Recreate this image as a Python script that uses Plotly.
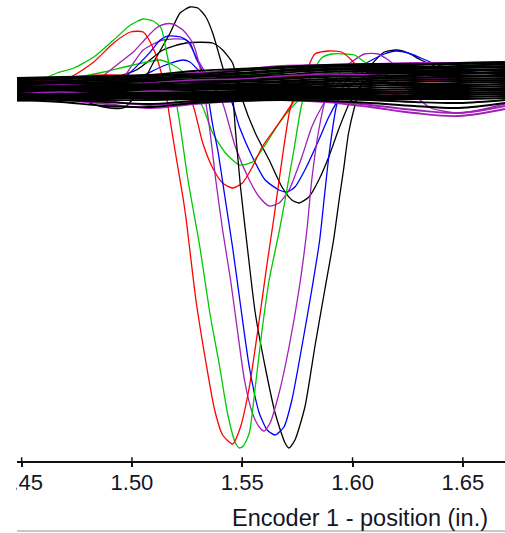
import plotly.graph_objects as go

# ---- deep-dip sweeps: position (in.) and signal (counts) ----
red_deep_x = [1.4479, 1.4615, 1.4723, 1.4827, 1.4917, 1.4993, 1.5051, 1.5096, 1.5132, 1.5155,
              1.5173, 1.5195, 1.5231, 1.5245, 1.5290, 1.5335, 1.5375, 1.5411, 1.5456, 1.5492,
              1.5532, 1.5577, 1.5613, 1.5644, 1.5680, 1.5716, 1.5748, 1.5793, 1.5829, 1.5892,
              1.5950, 1.5995, 1.6054, 1.6130, 1.6310, 1.6691]
red_deep_y = [-4, 4, 11, 26, 45, 56, 56, 40, 16, -7,
              -32, -62, -109, -130, -212, -274, -322, -347, -356, -339,
              -299, -232, -175, -129, -72, -22, -2, 18, 34, 37,
              36, 28, 13, 6, 2, 4]

green_deep_x = [1.4479, 1.4588, 1.4660, 1.4737, 1.4827, 1.4917, 1.4993, 1.5051, 1.5096, 1.5132,
                1.5155, 1.5173, 1.5195, 1.5218, 1.5254, 1.5308, 1.5353, 1.5398, 1.5433, 1.5469,
                1.5487, 1.5505, 1.5532, 1.5559, 1.5590, 1.5622, 1.5667, 1.5694, 1.5734, 1.5770,
                1.5815, 1.5860, 1.5905, 1.6009, 1.6054, 1.6130, 1.6355, 1.6691]
green_deep_y = [0, 8, 15, 20, 31, 48, 63, 69, 67, 60,
                38, 18, -7, -37, -92, -159, -225, -279, -325, -355,
                -360, -358, -345, -299, -242, -192, -144, -112, -62, -16,
                14, 30, 34, 33, 26, 20, 24, 25]

magenta_deep_x = [1.4479, 1.4692, 1.4840, 1.4948, 1.5006, 1.5065, 1.5110, 1.5150, 1.5186, 1.5231,
                  1.5276, 1.5308, 1.5330, 1.5353, 1.5380, 1.5411, 1.5447, 1.5478, 1.5510, 1.5546,
                  1.5577, 1.5599, 1.5626, 1.5667, 1.5712, 1.5757, 1.5793, 1.5815, 1.5847, 1.5883,
                  1.5950, 1.5995, 1.6054, 1.6117, 1.6162, 1.6220, 1.6310, 1.6691]
magenta_deep_y = [-7, -4, 8, 26, 36, 50, 60, 64, 64, 58,
                  45, 21, -7, -42, -92, -142, -192, -242, -292, -325,
                  -339, -343, -335, -305, -259, -202, -142, -92, -42, -7,
                  18, 26, 34, 34, 28, 18, 10, 6]

blue_deep_x = [1.4479, 1.4782, 1.4961, 1.5083, 1.5128, 1.5164, 1.5222, 1.5263, 1.5290, 1.5321,
               1.5344, 1.5366, 1.5389, 1.5420, 1.5456, 1.5492, 1.5532, 1.5577, 1.5613, 1.5649,
               1.5689, 1.5725, 1.5770, 1.5815, 1.5851, 1.5874, 1.5896, 1.5928, 1.5973, 1.6040,
               1.6144, 1.6198, 1.6252, 1.6310, 1.6400, 1.6691]
blue_deep_y = [-5, -2, 10, 36, 48, 52, 51, 45, 30, 16,
               -7, -37, -62, -107, -159, -217, -279, -325, -342, -347,
               -339, -312, -259, -202, -152, -105, -62, -17, 8, 22,
               34, 37, 35, 30, 22, 16]

black_deep_x = [1.4479, 1.4692, 1.4872, 1.4961, 1.5020, 1.5096, 1.5173, 1.5218, 1.5263, 1.5299,
                1.5335, 1.5366, 1.5398, 1.5424, 1.5456, 1.5469, 1.5492, 1.5523, 1.5559, 1.5604,
                1.5649, 1.5694, 1.5712, 1.5739, 1.5784, 1.5829, 1.5874, 1.5914, 1.5941, 1.5959,
                1.5982, 1.6009, 1.6040, 1.6085, 1.6144, 1.6198, 1.6252, 1.6310, 1.6400, 1.6691]
black_deep_y = [-2, -7, -19, -20, -7, 25, 55, 75, 81, 80,
                71, 55, 31, 11, -9, -42, -99, -159, -225, -279,
                -325, -355, -360, -352, -319, -259, -202, -152, -109, -82,
                -45, -19, 3, 23, 36, 38, 35, 28, 20, 13]

# ---- shallow-dip sweeps ----
red_shallow_x = [1.4479, 1.4692, 1.4872, 1.5096, 1.5231, 1.5276, 1.5321, 1.5366, 1.5411, 1.5456,
                 1.5501, 1.5546, 1.5590, 1.5667, 1.5739, 1.5815, 1.5950, 1.6220, 1.6691]
red_shallow_y = [2, 4, 8, 10, -2, -17, -55, -80, -95, -100,
                 -95, -79, -59, -35, -12, 3, 10, 8, 6]

green_shallow_x = [1.4479, 1.4692, 1.4872, 1.5006, 1.5128, 1.5186, 1.5231, 1.5276, 1.5321, 1.5366,
                   1.5424, 1.5487, 1.5546, 1.5604, 1.5667, 1.5725, 1.5770, 1.5837, 1.5928, 1.6040,
                   1.6310, 1.6691]
green_shallow_y = [3, 8, 16, 23, 28, 23, 16, -2, -19, -45,
                   -65, -77, -74, -57, -35, -19, -9, 8, 18, 22,
                   24, 24]

magenta_shallow_x = [1.4479, 1.4692, 1.4872, 1.4961, 1.5051, 1.5141, 1.5245, 1.5299, 1.5366, 1.5411,
                     1.5469, 1.5532, 1.5577, 1.5622, 1.5667, 1.5712, 1.5770, 1.5815, 1.5860, 1.5928,
                     1.5995, 1.6085, 1.6220, 1.6355, 1.6490, 1.6691]
magenta_shallow_y = [-8, -10, -12, 10, 38, 48, 48, 28, 3, -15,
                     -59, -92, -109, -118, -115, -102, -69, -39, -19, 3,
                     13, 20, 4, -20, -25, -16]

blue_shallow_x = [1.4479, 1.4782, 1.5006, 1.5141, 1.5231, 1.5263, 1.5321, 1.5389, 1.5442, 1.5487,
                  1.5546, 1.5604, 1.5667, 1.5703, 1.5739, 1.5784, 1.5847, 1.5892, 1.5950, 1.6040,
                  1.6220, 1.6691]
blue_shallow_y = [-3, 0, 8, 22, 28, 26, 13, -4, -9, -39,
                  -69, -92, -102, -104, -99, -82, -52, -29, -7, 10,
                  3, -2]

black_shallow_x = [1.4479, 1.4782, 1.5020, 1.5141, 1.5245, 1.5366, 1.5411, 1.5456, 1.5478, 1.5501,
                   1.5559, 1.5622, 1.5680, 1.5725, 1.5757, 1.5802, 1.5847, 1.5892, 1.5936, 1.5982,
                   1.6040, 1.6107, 1.6310, 1.6691]
black_shallow_y = [0, 3, 18, 38, 45, 45, 38, 25, 8, -12,
                   -45, -72, -99, -112, -115, -109, -92, -69, -42, -17,
                   3, 13, 18, 18]

# ---- baseline sweeps (no dip inside the window), sampled on a common grid ----
band_x = [1.4479, 1.468, 1.488, 1.508, 1.528, 1.548, 1.568, 1.588, 1.608, 1.628, 1.648, 1.6691]

black_band = [
    [10, 11, 12, 13, 17, 19, 21, 23, 24, 24, 25, 26],
    [9, 10, 11, 13, 14, 17, 20, 22, 22, 23, 24, 25],
    [8, 9, 10, 12, 13, 15, 18, 21, 21, 21, 22, 24],
    [7, 7, 9, 10, 12, 14, 17, 19, 20, 20, 21, 22],
    [6, 6, 8, 9, 11, 12, 15, 18, 18, 19, 20, 21],
    [5, 5, 6, 8, 9, 11, 13, 16, 17, 17, 18, 19],
    [4, 4, 5, 7, 8, 10, 12, 14, 15, 16, 17, 18],
    [3, 3, 4, 5, 7, 8, 10, 12, 14, 15, 15, 16],
    [2, 2, 3, 4, 6, 7, 9, 11, 12, 13, 14, 15],
    [1, 1, 2, 3, 4, 6, 7, 9, 10, 12, 12, 13],
    [0, 0, 1, 2, 3, 4, 6, 7, 9, 10, 11, 12],
    [-1, -1, 0, 1, 2, 3, 4, 6, 7, 8, 9, 10],
    [-2, -2, -1, 0, 1, 2, 3, 4, 5, 6, 7, 8],
    [-3, -3, -2, -1, 0, 1, 2, 2, 4, 4, 5, 6],
    [-4, -4, -3, -2, -1, 0, 0, 1, 2, 3, 3, 4],
    [-5, -5, -4, -4, -2, -1, -1, -1, 0, 1, 1, 2],
    [-6, -6, -5, -5, -4, -3, -3, -2, -2, -1, -1, 0],
    [-7, -7, -7, -6, -5, -5, -4, -4, -4, -3, -3, -2],
    [-8, -8, -8, -7, -7, -6, -6, -6, -6, -5, -5, -4],
    [-9, -9, -9, -9, -8, -8, -8, -7, -8, -7, -7, -6],
    [-10, -10, -10, -10, -10, -9, -9, -9, -9, -9, -9, -8],
    [-11, -11, -12, -12, -11, -11, -10, -10, -11, -11, -11, -10],
    [-10, -12, -14, -16, -13, -12, -11, -11, -12, -14, -15, -12],
    [-12, -14, -18, -19, -15, -13, -12, -13, -15, -18, -20, -15],
]

magenta_band_low_1 = [-13, -12, -16, -20, -16, -13, -12, -14, -19, -25, -28, -21]
magenta_band_low_2 = [-10, -11, -13, -17, -14, -12, -12, -13, -17, -22, -25, -18]
magenta_band_mid_1 = [1, 3, 2, 5, 8, 9, 12, 14, 13, 10, 9, 8]
magenta_band_mid_2 = [-6, -4, -6, -3, -4, -6, -5, -3, -4, -8, -6, -7]
magenta_band_top = [8, 7, 9, 12, 15, 18, 22, 23, 24, 25, 25, 25]
green_band_low = [-11, -11, -9, -9, -7, -6, -4, -4, -3, -4, -5, -3]
green_band_top = [6, 5, 7, 9, 11, 13, 16, 19, 22, 24, 25, 26]
red_band_1 = [4, 10, 13, 12, 14, 12, 11, 13, 11, 9, 10, 8]
red_band_2 = [-7, -6, -8, -10, -6, -5, -7, -6, -5, -4, -6, -5]

# axis ticks
tick_vals = [1.45, 1.50, 1.55, 1.60, 1.65]
tick_text = ["1.45", "1.50", "1.55", "1.60", "1.65"]

RED = "#ff0000"
GREEN = "#00c800"
MAGENTA = "#a020b8"
BLUE = "#0000ff"
BLACK = "#000000"

fig = go.Figure()


def add_line(x, y, color, width=1.3, smoothing=0.6):
    fig.add_trace(go.Scatter(
        x=x, y=y, mode="lines",
        line=dict(color=color, width=width, shape="spline", smoothing=smoothing),
        hoverinfo="skip", showlegend=False,
    ))


# shallow sweeps underneath, deep sweeps above them
for xs, ys, c in [
    (black_shallow_x, black_shallow_y, BLACK),
    (blue_shallow_x, blue_shallow_y, BLUE),
    (magenta_shallow_x, magenta_shallow_y, MAGENTA),
    (green_shallow_x, green_shallow_y, GREEN),
    (red_shallow_x, red_shallow_y, RED),
    (black_deep_x, black_deep_y, BLACK),
    (blue_deep_x, blue_deep_y, BLUE),
    (magenta_deep_x, magenta_deep_y, MAGENTA),
    (green_deep_x, green_deep_y, GREEN),
    (red_deep_x, red_deep_y, RED),
]:
    add_line(xs, ys, c)

# baseline band: coloured sweeps woven between the black ones
add_line(band_x, magenta_band_low_1, MAGENTA, 1.8, 1)
add_line(band_x, magenta_band_low_2, MAGENTA, 1.8, 1)
add_line(band_x, green_band_top, GREEN, 1.8, 1)
add_line(band_x, magenta_band_top, MAGENTA, 1.8, 1)
add_line(band_x, red_band_1, RED, 1.3, 1)
for row in black_band[:8]:
    add_line(band_x, row, BLACK, 1.9, 1)
add_line(band_x, magenta_band_mid_1, MAGENTA, 1.4, 1)
for row in black_band[8:16]:
    add_line(band_x, row, BLACK, 1.9, 1)
add_line(band_x, magenta_band_mid_2, MAGENTA, 1.4, 1)
add_line(band_x, red_band_2, RED, 1.3, 1)
add_line(band_x, green_band_low, GREEN, 1.3, 1)
for row in black_band[16:]:
    add_line(band_x, row, BLACK, 1.9, 1)

fig.update_layout(
    width=505, height=533,
    margin=dict(l=13, r=0, t=0, b=72),
    paper_bgcolor="white", plot_bgcolor="white",
    showlegend=False,
    xaxis=dict(
        range=[1.4479, 1.6691], tickvals=tick_vals, ticktext=tick_text,
        showgrid=False, zeroline=False,
        showline=True, linecolor="#111111", linewidth=2,
        ticks="outside", ticklen=4, tickwidth=1.5, tickcolor="#111111",
        ticklabeloverflow="allow", ticklabelstandoff=-3,
        tickfont=dict(family="Liberation Sans, Arial, sans-serif", size=22, color="#151525"),
    ),
    yaxis=dict(range=[-373, 88], visible=False, fixedrange=True),
    shapes=[
        # short upward tick marks crossing the axis line
        *[dict(type="line", xref="x", yref="paper", x0=v, x1=v, y0=0, y1=0.008,
               line=dict(color="#111111", width=1.5)) for v in tick_vals],
        # labels are clipped at the left edge of the axis
        dict(type="rect", xref="paper", yref="paper", x0=-0.05, x1=-0.0015,
             y0=-0.012, y1=-0.12, fillcolor="white", line=dict(width=0), layer="above"),
        # frame line along the bottom
        dict(type="line", xref="paper", yref="paper", x0=0, x1=1.02, y0=-0.1518, y1=-0.1518,
             line=dict(color="#c8c8c8", width=2)),
    ],
    annotations=[dict(
        text="Encoder 1 - position (in.)", xref="paper", yref="paper",
        x=0.9695, y=-0.1236, xanchor="right", yanchor="middle", showarrow=False,
        font=dict(family="Liberation Sans, Arial, sans-serif", size=23.5, color="#151525"),
    )],
)

fig.write_html("out.html")
